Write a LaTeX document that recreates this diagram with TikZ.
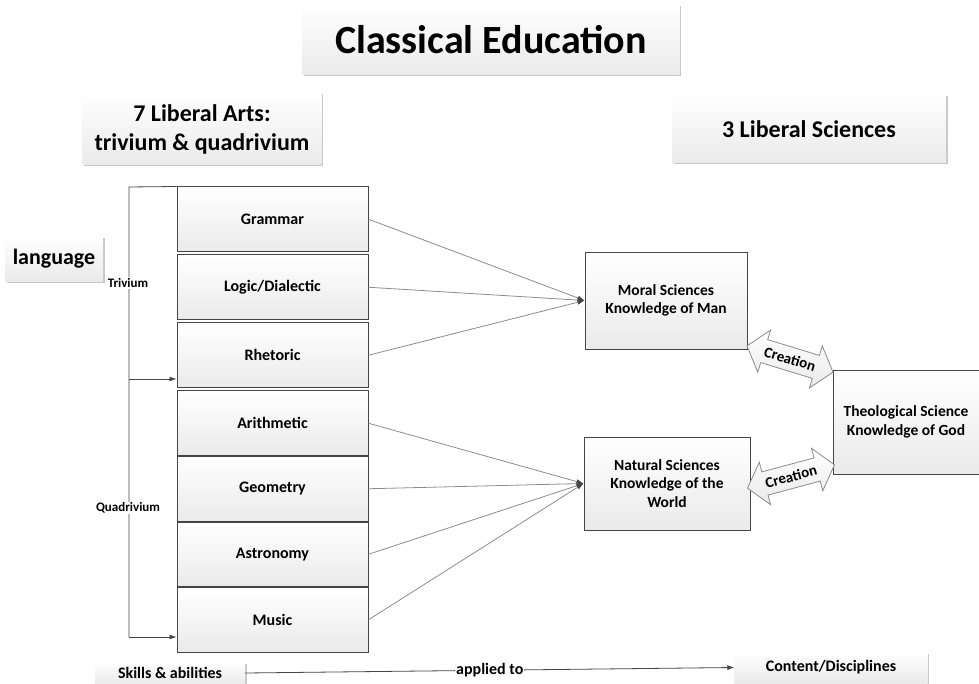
\documentclass[tikz,border=0pt]{standalone}
\usepackage{fontspec}
\setmainfont{Carlito}
\usetikzlibrary{arrows.meta,positioning,shadows}
\definecolor{eduDark}{HTML}{454545}
\definecolor{eduLine}{HTML}{8C8C8C}
\definecolor{eduShade}{HTML}{EAEAEA}
\tikzset{
  headbox/.style={rectangle, top color=white, bottom color=eduShade, draw=none, drop shadow={shadow xshift=1.5pt, shadow yshift=-1.5pt, fill=black!22, opacity=1}, align=center, font=\bfseries\fontsize{24}{29}\selectfont},
  artbox/.style={rectangle, top color=white, bottom color=eduShade, draw=eduDark, line width=1pt, minimum width=191pt, minimum height=64.5pt, font=\bfseries\fontsize{16}{19}\selectfont},
  sciencebox/.style={rectangle, top color=white, bottom color=eduShade, draw=eduDark, line width=0.8pt, align=center, font=\bfseries\fontsize{15.5}{18.5}\selectfont},
  creationshape/.style={draw=eduLine, top color=white, bottom color=eduShade, line width=0.8pt, line join=miter},
  creationtext/.style={inner sep=0pt, transform shape, font=\bfseries\fontsize{15}{17}\selectfont},
  link/.style={-{Latex[length=7pt,width=5pt,color=eduDark]}, draw=eduLine, line width=0.8pt},
  bracket/.style={-{Latex[length=7pt,width=5pt]}, draw=eduDark, line width=0.8pt},
  tag/.style={fill=white, inner sep=1pt, font=\bfseries\fontsize{13}{15}\selectfont}
}
\newcommand{\creationarrow}[3]{%
  \begin{scope}[shift={#1}, rotate=#2]
    \path[creationshape] (-45,0) -- (-27,22) -- (-27,12) -- (27,12) -- (27,22) -- (45,0)
      -- (27,-22) -- (27,-12) -- (-27,-12) -- (-27,-22) -- cycle;
    \node[creationtext] (#3) at (0,0) {Creation};
  \end{scope}}
\begin{document}
\begin{tikzpicture}[x=1pt, y=1pt, node distance=2.5pt]
  \useasboundingbox (0,0) rectangle (979,683);

  \node[headbox, minimum width=377pt, minimum height=70pt, font=\bfseries\fontsize{40}{48}\selectfont] (title) at (491,643) {Classical Education};
  \node[headbox, minimum width=239pt, minimum height=72pt] (arts) at (202,554) {7 Liberal Arts:\\trivium \& quadrivium};
  \node[headbox, minimum width=274pt, minimum height=68pt] (sciences) at (809,554) {3 Liberal Sciences};
  \node[headbox, minimum width=98pt, minimum height=45pt, font=\bfseries\fontsize{22}{26}\selectfont] (language) at (54,424) {language};

  \node[artbox] (grammar) at (272.5,463.75) {Grammar};
  \node[artbox, below=of grammar] (logic) {Logic/Dialectic};
  \node[artbox, below=of logic] (rhetoric) {Rhetoric};
  \node[artbox, below=of rhetoric] (arithmetic) {Arithmetic};
  \node[artbox, below=0pt of arithmetic] (geometry) {Geometry};
  \node[artbox, below=0pt of geometry] (astronomy) {Astronomy};
  \node[artbox, below=0pt of astronomy] (music) {Music};

  \node[sciencebox, minimum width=162pt, minimum height=97pt] (moral) at (666,382.5) {Moral Sciences\\Knowledge of Man};
  \node[sciencebox, minimum width=166pt, minimum height=93pt] (natural) at (667,199.5) {Natural Sciences\\Knowledge of the\\World};
  \node[sciencebox, minimum width=146pt, minimum height=104pt] (theo) at (906,261) {Theological Science\\Knowledge of God};

  \creationarrow{(790,324)}{-17}{upcreation}
  \creationarrow{(791,206.5)}{15}{lowcreation}

  \coordinate (bend) at (129,496);
  \coordinate (trivfoot) at (129,304);
  \coordinate (quadfoot) at (129,46);
  \draw[eduDark, line width=0.8pt] (grammar.north west) -- (bend) -- (quadfoot);
  \draw[bracket] (trivfoot) -- (trivfoot -| rhetoric.west);
  \draw[bracket] (quadfoot) -- (quadfoot -| music.west);
  \node[tag] (trivium) at (128,400) {Trivium};
  \node[tag] (quadrivium) at (128,175) {Quadrivium};

  \draw[link] (grammar.east) -- (moral.west);
  \draw[link] (logic.east) -- (moral.west);
  \draw[link] (rhetoric.east) -- (moral.west);
  \draw[link] (arithmetic.east) -- (natural.west);
  \draw[link] (geometry.east) -- (natural.west);
  \draw[link] (astronomy.east) -- (natural.west);
  \draw[link] (music.east) -- (natural.west);

  \node[headbox, minimum width=150pt, minimum height=22pt, font=\bfseries\fontsize{16}{19}\selectfont] (skills) at (170,10) {Skills \& abilities};
  \node[headbox, minimum width=193pt, minimum height=31pt, font=\bfseries\fontsize{16}{19}\selectfont] (content) at (831,15.5) {Content/Disciplines};
  \draw[bracket] (skills.east) -- node[tag, font=\bfseries\fontsize{16}{19}\selectfont] {applied to} (content.west);
\end{tikzpicture}
\end{document}
